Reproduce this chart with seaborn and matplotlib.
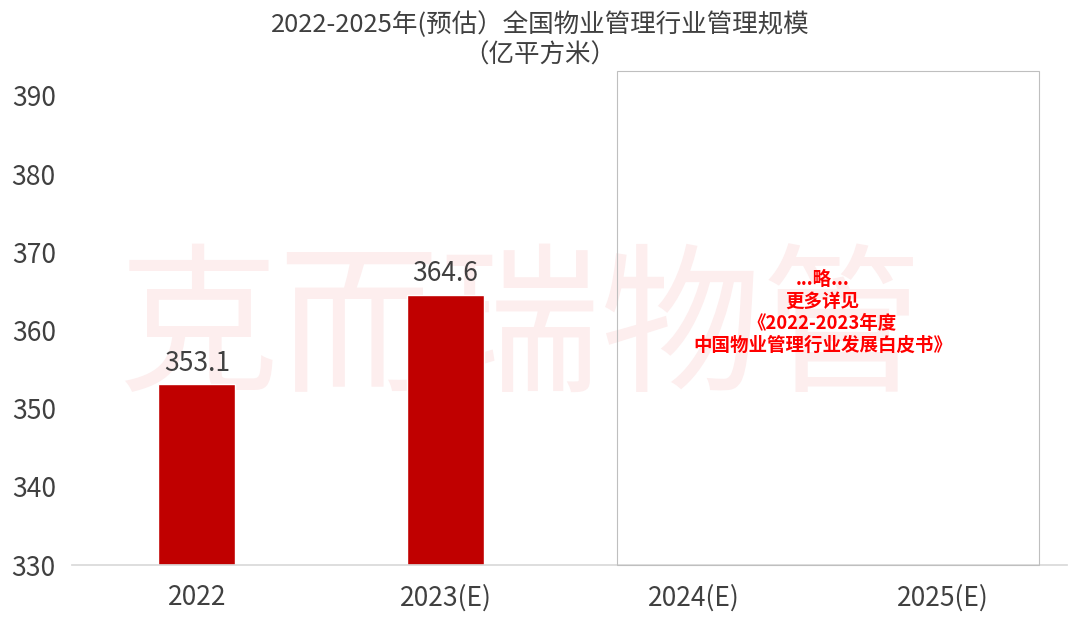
import numpy as np
import pandas as pd
import matplotlib
matplotlib.use("Agg")
import matplotlib.pyplot as plt
import seaborn as sns
from matplotlib.patches import Rectangle

years = ["2022", "2023(E)", "2024(E)", "2025(E)"]
scale = [353.1, 364.6, np.nan, np.nan]
yticks = [330, 340, 350, 360, 370, 380, 390]

title = "2022-2025年(预估）全国物业管理行业管理规模\n（亿平方米）"
note = "...略...\n更多详见\n《2022-2023年度\n中国物业管理行业发展白皮书》"
watermark = "克而瑞物管"

sns.set_theme(style="white")
plt.rcParams['font.family'] = ['Noto Sans CJK SC', 'DejaVu Sans']

df = pd.DataFrame({"year": years, "scale": scale})

fig = plt.figure(figsize=(10.8, 6.28), dpi=100)
ax = fig.add_axes([0.0671, 0.1003, 0.9213, 0.7867])

# faint watermark behind the bars
ax.text(1.297, 359.6, watermark, fontsize=116, color="#FDEEEE", ha="center", va="center",
        fontweight="light", zorder=0)

sns.barplot(data=df, x="year", y="scale", order=years, color="#C00000", width=0.31,
            saturation=1, ax=ax, zorder=2)

for i, v in enumerate(scale):
    if not np.isnan(v):
        ax.text(i, v + 1.0, f"{v:.1f}", ha="center", va="bottom", fontsize=19, color="#404040")

ax.set_xlim(-0.5, 3.5)
ax.set_ylim(330, 393.2)
ax.set_yticks(yticks)
ax.set_xlabel("")
ax.set_ylabel("")
ax.tick_params(axis="both", labelsize=19, colors="#404040", length=0, pad=12)
ax.tick_params(axis="x", pad=14)
for s in ["top", "right", "left"]:
    ax.spines[s].set_visible(False)
ax.spines["bottom"].set_color("#D9D9D9")

# empty box for the omitted years
ax.add_patch(Rectangle((1.69, 330), 3.386 - 1.69, 63.2, fill=False, edgecolor="#BFBFBF",
                       linewidth=0.8, zorder=3, clip_on=False))

ax.text(2.515, 362.3, note, ha="center", va="center", fontsize=13.3, fontweight="bold",
        color="#FF0000", linespacing=1.2, zorder=4)

fig.suptitle(title, fontsize=18.4, color="#404040", y=0.982, va="top", linespacing=1.2)

fig.savefig("out.png", dpi=100)
